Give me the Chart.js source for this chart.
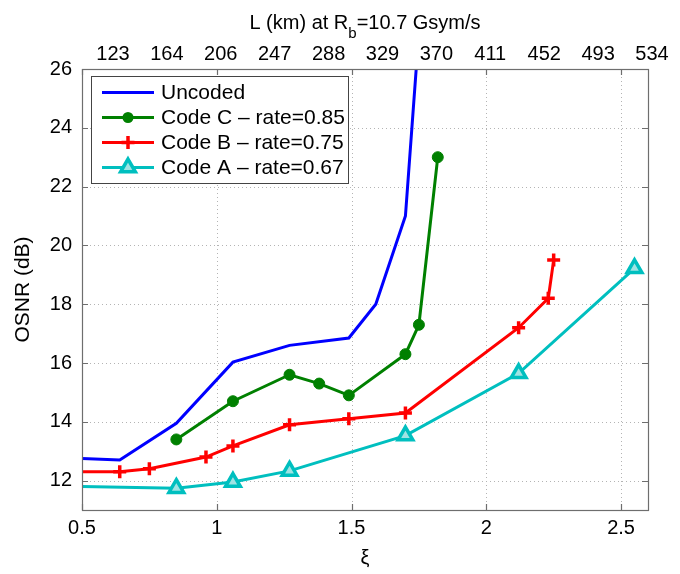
<!DOCTYPE html>
<html><head><meta charset="utf-8">
<style>html,body{margin:0;padding:0;background:#fff;}#wrap{width:680px;height:574px;position:relative;}</style>
<script src="https://cdn.jsdelivr.net/npm/chart.js@4.4.1/dist/chart.umd.min.js"></script>
</head><body><div id="wrap"><canvas id="c" width="680" height="574"></canvas></div>
<script>
// ---- data ----
const xiUncoded   = [0.50, 0.64, 0.85, 1.06, 1.27, 1.49, 1.59, 1.70, 1.74];
const osnrUncoded = [12.75, 12.7, 13.95, 16.03, 16.6, 16.85, 18.0, 21.0, 26.0];
const xiCodeC     = [0.85, 1.06, 1.27, 1.38, 1.49, 1.70, 1.75, 1.82];
const osnrCodeC   = [13.4, 14.7, 15.6, 15.3, 14.9, 16.3, 17.3, 23.0];
const xiCodeB     = [0.50, 0.64, 0.75, 0.96, 1.06, 1.27, 1.49, 1.70, 2.12, 2.23, 2.25];
const osnrCodeB   = [12.3, 12.3, 12.4, 12.8, 13.18, 13.9, 14.1, 14.3, 17.2, 18.2, 19.5];
const xiCodeA     = [0.50, 0.85, 1.06, 1.27, 1.70, 2.12, 2.55];
const osnrCodeA   = [11.8, 11.74, 11.95, 12.33, 13.53, 15.65, 19.22];
const seriesNames = ['Uncoded', 'Code C \u2013 rate=0.85', 'Code B \u2013 rate=0.75', 'Code A \u2013 rate=0.67'];
const xTicks = [0.5, 1, 1.5, 2, 2.5];
const yTicks = [12, 14, 16, 18, 20, 22, 24, 26];
const topTickXi = [0.6, 0.8, 1.0, 1.2, 1.4, 1.6, 1.8, 2.0, 2.2, 2.4, 2.6];
const topTickLabels = ['123', '164', '206', '247', '288', '329', '370', '411', '452', '493', '534'];
const xLabel = '\u03BE';
const yLabel = 'OSNR (dB)';
const topTitleParts = ['L (km) at R', 'b', '=10.7 Gsym/s'];

const FONT = '"Liberation Sans", Arial, Helvetica, sans-serif';
const pts = (xs, ys) => xs.map((x, i) => ({x: x, y: ys[i]}));

const BLUE = '#0000ff', GREEN = '#008000', RED = '#ff0000', CYAN = '#00bfbf', CYAN_FILL = '#9fe3e3';

const datasets = [
  {label: seriesNames[0], data: pts(xiUncoded, osnrUncoded), borderColor: BLUE, backgroundColor: BLUE,
   borderWidth: 3, pointRadius: 0, pointStyle: false},
  {label: seriesNames[1], data: pts(xiCodeC, osnrCodeC), borderColor: GREEN, backgroundColor: GREEN,
   borderWidth: 3, pointStyle: 'circle', pointRadius: 5.5, pointBorderWidth: 1, pointBackgroundColor: GREEN, pointBorderColor: GREEN},
  {label: seriesNames[2], data: pts(xiCodeB, osnrCodeB), borderColor: RED, backgroundColor: RED,
   borderWidth: 3, pointStyle: 'cross', pointRadius: ctx => ctx.dataIndex === 0 ? 0 : 6.5, pointBorderWidth: 3.5, pointBorderColor: RED},
  {label: seriesNames[3], data: pts(xiCodeA, osnrCodeA), borderColor: CYAN, backgroundColor: CYAN,
   borderWidth: 3, pointStyle: 'triangle', pointRadius: ctx => ctx.dataIndex === 0 ? 0 : 8.5, pointBorderWidth: 3.5, pointBorderColor: CYAN, pointBackgroundColor: CYAN_FILL}
];

function marker(ctx, style, x, y, r, color, fill) {
  ctx.save();
  ctx.strokeStyle = color; ctx.lineWidth = 3.5; ctx.setLineDash([]);
  if (style === 'circle') {
    ctx.fillStyle = color; ctx.beginPath(); ctx.arc(x, y, r, 0, Math.PI * 2); ctx.fill();
  } else if (style === 'cross') {
    ctx.beginPath(); ctx.moveTo(x - r, y); ctx.lineTo(x + r, y); ctx.moveTo(x, y - r); ctx.lineTo(x, y + r); ctx.stroke();
  } else if (style === 'triangle') {
    const s = r * Math.sqrt(3) / 2;
    ctx.fillStyle = fill;
    ctx.beginPath(); ctx.moveTo(x, y - r); ctx.lineTo(x + s, y + r / 2); ctx.lineTo(x - s, y + r / 2); ctx.closePath();
    ctx.fill(); ctx.stroke();
  }
  ctx.restore();
}

const framePlugin = {
  id: 'frame',
  beforeDatasetsDraw(chart) {
    const {ctx, chartArea: a, scales} = chart;
    const sx = scales.x, sy = scales.y;
    ctx.save();
    ctx.strokeStyle = '#b4b4b4'; ctx.lineWidth = 1; ctx.setLineDash([1, 3]);
    xTicks.forEach(v => {
      if (v <= sx.min || v >= sx.max) return;
      const px = Math.round(sx.getPixelForValue(v)) + 0.5;
      ctx.beginPath(); ctx.moveTo(px, a.top); ctx.lineTo(px, a.bottom); ctx.stroke();
    });
    yTicks.forEach(v => {
      if (v <= sy.min || v >= sy.max) return;
      const py = Math.round(sy.getPixelForValue(v)) + 0.5;
      ctx.beginPath(); ctx.moveTo(a.left, py); ctx.lineTo(a.right, py); ctx.stroke();
    });
    ctx.restore();
  },
  afterDatasetsDraw(chart) {
    const {ctx, chartArea: a, scales} = chart;
    const sx = scales.x, sy = scales.y;
    ctx.save();
    ctx.setLineDash([]);
    ctx.strokeStyle = '#6e6e6e'; ctx.lineWidth = 1.2;
    ctx.strokeRect(Math.round(a.left) + 0.5, Math.round(a.top) + 0.5, Math.round(a.width), Math.round(a.height));
    const tl = 6;
    xTicks.forEach(v => {
      const px = Math.round(sx.getPixelForValue(v)) + 0.5;
      ctx.beginPath(); ctx.moveTo(px, a.bottom); ctx.lineTo(px, a.bottom - tl);
      ctx.moveTo(px, a.top); ctx.lineTo(px, a.top + tl); ctx.stroke();
    });
    yTicks.forEach(v => {
      const py = Math.round(sy.getPixelForValue(v)) + 0.5;
      ctx.beginPath(); ctx.moveTo(a.left, py); ctx.lineTo(a.left + tl, py);
      ctx.moveTo(a.right, py); ctx.lineTo(a.right - tl, py); ctx.stroke();
    });
    // legend
    const bx = 91.5, by = 76.5, bw = 257, bh = 107;
    ctx.fillStyle = '#ffffff'; ctx.fillRect(bx, by, bw, bh);
    ctx.strokeStyle = '#444'; ctx.lineWidth = 1; ctx.strokeRect(bx, by, bw, bh);
    ctx.font = '21px ' + FONT; ctx.fillStyle = '#000'; ctx.textBaseline = 'middle'; ctx.textAlign = 'left';
    chart.data.datasets.forEach((ds, i) => {
      const y = 92.5 + i * 25;
      ctx.strokeStyle = ds.borderColor; ctx.lineWidth = 3;
      ctx.beginPath(); ctx.moveTo(102, y); ctx.lineTo(154, y); ctx.stroke();
      if (ds.pointStyle === 'circle') marker(ctx, 'circle', 128, y, 5.5, ds.borderColor);
      if (ds.pointStyle === 'cross') marker(ctx, 'cross', 128, y, 6.5, ds.borderColor);
      if (ds.pointStyle === 'triangle') marker(ctx, 'triangle', 128, y, 8.5, ds.borderColor, CYAN_FILL);
      ctx.fillStyle = '#000';
      ctx.fillText(ds.label, 161, y + 1);
    });
    // top title with subscript
    const mainF = '20px ' + FONT, subF = '15px ' + FONT;
    ctx.font = mainF; const w0 = ctx.measureText(topTitleParts[0]).width, w2 = ctx.measureText(topTitleParts[2]).width;
    ctx.font = subF; const w1 = ctx.measureText(topTitleParts[1]).width;
    let x = (a.left + a.right) / 2 - (w0 + w1 + w2) / 2;
    const base = 28.5;
    ctx.textBaseline = 'alphabetic'; ctx.fillStyle = '#000';
    ctx.font = mainF; ctx.fillText(topTitleParts[0], x, base); x += w0;
    ctx.font = subF; ctx.fillText(topTitleParts[1], x, base + 9); x += w1;
    ctx.font = mainF; ctx.fillText(topTitleParts[2], x, base);
    ctx.restore();
  }
};

const tickFont = {family: FONT, size: 20};
new Chart(document.getElementById('c'), {
  type: 'line',
  data: {datasets: datasets},
  options: {
    responsive: false, animation: false, devicePixelRatio: 1,
    layout: {padding: {left: 0, right: 32, top: 0, bottom: 0}},
    elements: {line: {tension: 0, fill: false}},
    plugins: {legend: {display: false}, tooltip: {enabled: false}},
    scales: {
      x: {type: 'linear', position: 'bottom', min: 0.5, max: 2.6,
        afterBuildTicks: s => { s.ticks = xTicks.map(v => ({value: v})); },
        ticks: {font: tickFont, color: '#000', padding: 6, maxRotation: 0, autoSkip: false,
          callback: v => String(v)},
        grid: {display: false, drawTicks: false}, border: {display: false},
        title: {display: true, text: xLabel, font: {family: FONT, size: 20}, color: '#000', padding: {top: 0, bottom: 4}},
        afterFit: s => { s.height = 64; }},
      x2: {type: 'linear', position: 'top', min: 0.5, max: 2.6,
        afterBuildTicks: s => { s.ticks = topTickXi.map(v => ({value: v})); },
        ticks: {font: tickFont, color: '#000', padding: 3, labelOffset: 4, maxRotation: 0, autoSkip: false,
          callback: (v, i) => topTickLabels[i]},
        grid: {display: false, drawTicks: false}, border: {display: false},
        afterFit: s => { s.height = 69; }},
      y: {type: 'linear', position: 'left', min: 11, max: 26,
        afterBuildTicks: s => { s.ticks = yTicks.map(v => ({value: v})); },
        ticks: {font: tickFont, color: '#000', padding: 10, callback: v => String(v)},
        grid: {display: false, drawTicks: false}, border: {display: false},
        title: {display: true, text: yLabel, font: {family: FONT, size: 21}, color: '#000', padding: {top: 11, bottom: 0}},
        afterFit: s => { s.width = 82; }}
    }
  },
  plugins: [framePlugin]
});
</script></body></html>
